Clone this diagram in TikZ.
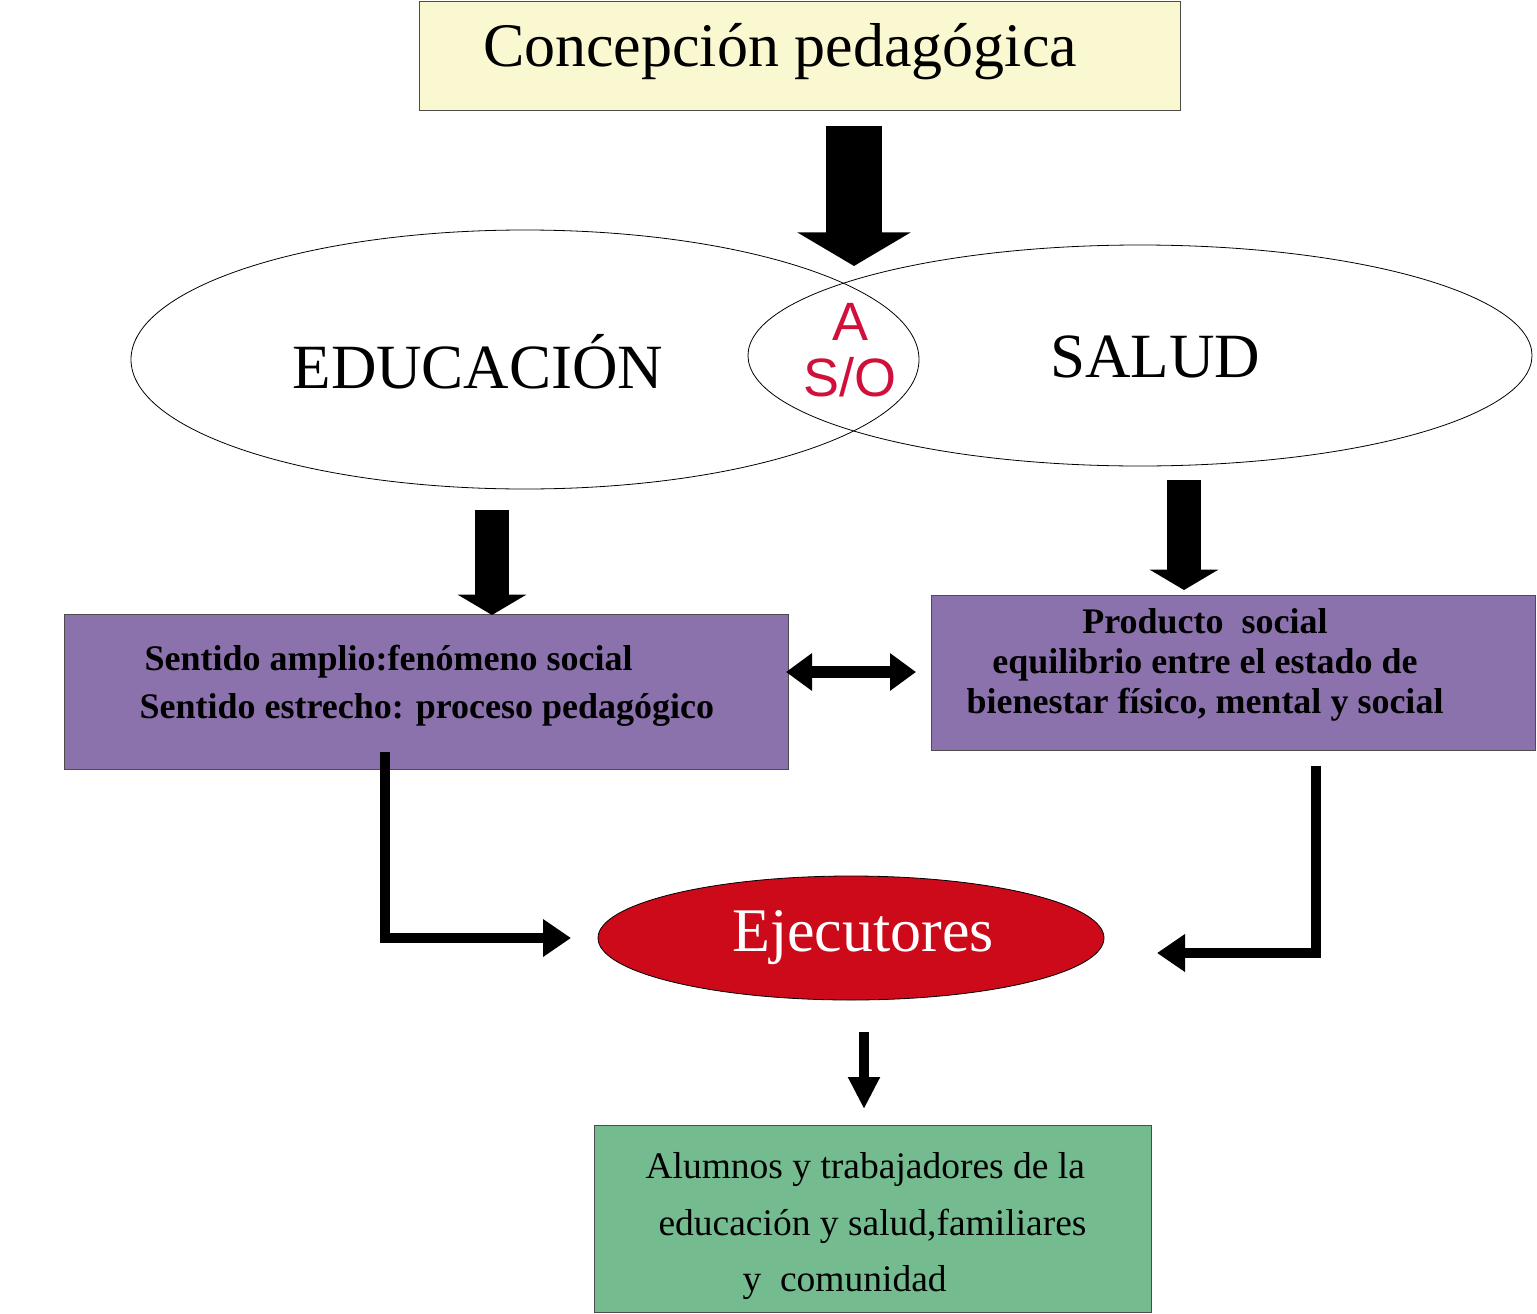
\documentclass[tikz,border=0pt]{standalone}
\usepackage{fontspec}
\setmainfont{Liberation Serif}
\newfontfamily\sansf{Liberation Sans}
\usetikzlibrary{arrows.meta,shapes.geometric}
\definecolor{ylw}{HTML}{F9F8D0}
\definecolor{purp}{HTML}{8C72AC}
\definecolor{grn}{HTML}{74BB90}
\definecolor{redE}{HTML}{CC0A1A}
\definecolor{crim}{HTML}{D0103A}
\tikzset{
 box/.style={draw=black!70, line width=1pt},
 ell/.style={draw, ellipse, line width=0.8pt, inner sep=0pt},
 fat/.style={line width=#1, -{Triangle[width=2*#1,length=0.6*#1]}},
}
\begin{document}
\begin{tikzpicture}[x=1pt,y=-1pt]
\useasboundingbox (0,0) rectangle (1537,1314);
\node[box, fill=ylw, minimum width=761pt, minimum height=108pt] (top) at (799.5,56) {};
\node at (780,52) {\fontsize{62}{66}\selectfont Concepción pedagógica};
\node[ell, minimum width=788pt, minimum height=259pt] (edu) at (525,359.5) {};
\node[ell, minimum width=784pt, minimum height=221pt] (sal) at (1140,355.5) {};
\node at (478,362) {\fontsize{63}{66}\selectfont EDUCACIÓN};
\node at (1155,357) {\fontsize{63}{66}\selectfont SALUD};
\node[text=crim, align=center, font=\sansf\fontsize{54}{56}\selectfont] (aso) at (850,350) {A\\S/O};
\coordinate (a1s) at (854,126); \coordinate (a1e) at (854,266);
\draw[fat=56pt] (a1s) -- (a1e);
\node[box, fill=purp, minimum width=724pt, minimum height=155pt] (lb) at (426,691.5) {};
\node[anchor=west, font=\bfseries\fontsize{36}{40}\selectfont] at (141,662) {Sentido amplio:fenómeno social};
\node[anchor=west, font=\bfseries\fontsize{36}{40}\selectfont] at (136,710) {Sentido estrecho: proceso pedagógico};
\node[box, fill=purp, minimum width=604pt, minimum height=155pt] (rb) at (1233,672.5) {};
\node[align=center, font=\bfseries\fontsize{36}{40}\selectfont] at (1205,665) {Producto \ social\\equilibrio entre el estado de\\bienestar físico, mental y social};
\coordinate (a2s) at (492,510); \coordinate (a2e) at (492,615);
\draw[fat=34pt] (a2s) -- (a2e);
\coordinate (a3s) at (1184,480); \coordinate (a3e) at (1184,590);
\draw[fat=34pt] (a3s) -- (a3e);
\coordinate (d1) at (786,672); \coordinate (d2) at (916,672);
\draw[line width=12pt, {Triangle[width=36pt,length=26pt]}-{Triangle[width=36pt,length=26pt]}] (d1) -- (d2);
\node[ell, fill=redE, minimum width=506pt, minimum height=124pt] (ej) at (851,938) {};
\node[text=white] at (863,938) {\fontsize{62}{66}\selectfont Ejecutores};
\coordinate (l1) at (385,752); \coordinate (l1e) at (571,938);
\draw[line width=10pt, -{Triangle[width=36pt,length=28pt]}] (l1) |- (l1e);
\coordinate (r1) at (1316,766); \coordinate (r1e) at (1157,953);
\draw[line width=10pt, -{Triangle[width=36pt,length=28pt]}] (r1) |- (r1e);
\coordinate (s1) at (864,1032); \coordinate (s1e) at (864,1109);
\draw[line width=10pt, -{Triangle[width=30pt,length=32pt]}] (s1) -- (s1e);
\node[box, fill=grn, minimum width=557pt, minimum height=187pt] (gb) at (872.5,1218.5) {};
\node[anchor=west] at (642,1170) {\fontsize{37.5}{40}\selectfont Alumnos y trabajadores de la};
\node[anchor=west] at (655,1226) {\fontsize{37.5}{40}\selectfont educación y salud,familiares};
\node[anchor=west] at (739,1283) {\fontsize{37.5}{40}\selectfont y \ comunidad};
\end{tikzpicture}
\end{document}
